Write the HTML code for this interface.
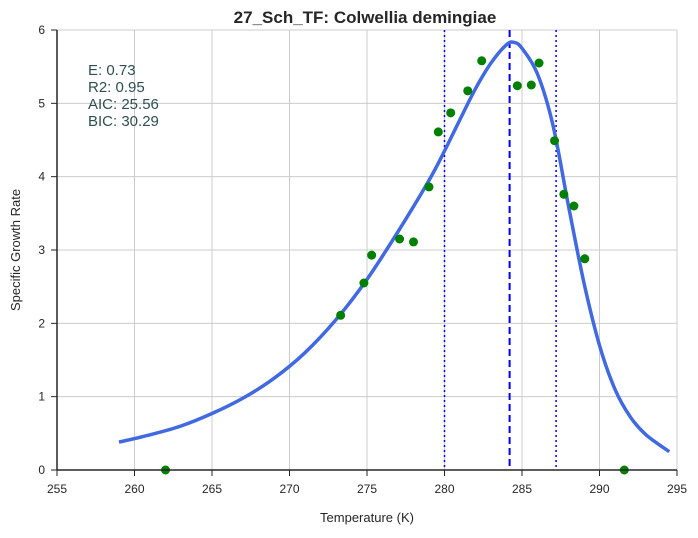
<!DOCTYPE html>
<html><head><meta charset="utf-8"><style>
body{margin:0;background:#fff;}
svg text{font-family:"Liberation Sans",Arial,sans-serif;}
</style></head><body>
<svg id="chart" width="698" height="533" xmlns="http://www.w3.org/2000/svg">
<rect width="698" height="533" fill="#fff"/>
<g id="grid"></g>
<g id="vlines"></g>
<path id="curve" fill="none" stroke="#4169e1" stroke-width="3.5"/>
<g id="points"></g>
<g id="axes"></g>
<text x="365" y="23" text-anchor="middle" font-size="17" font-weight="bold" fill="#262626">27_Sch_TF: Colwellia demingiae</text>
<text x="367" y="522" text-anchor="middle" font-size="13" fill="#262626">Temperature (K)</text>
<text transform="translate(20,250) rotate(-90)" text-anchor="middle" font-size="13" fill="#262626">Specific Growth Rate</text>
<g font-size="15" fill="#2f4f4f">
<text x="88" y="75">E:  0.73</text>
<text x="88" y="92">R2:  0.95</text>
<text x="88" y="109">AIC: 25.56</text>
<text x="88" y="126">BIC: 30.29</text>
</g>
</svg>
<script>
const xTicks=[255,260,265,270,275,280,285,290,295];
const yTicks=[0,1,2,3,4,5,6];
const obsT=[262.0,273.3,274.8,275.3,277.1,278.0,279.0,279.6,280.4,281.5,282.4,284.7,285.6,286.1,287.1,287.7,288.35,289.05,291.6];
const obsR=[0,2.11,2.55,2.93,3.15,3.11,3.86,4.61,4.87,5.17,5.58,5.24,5.25,5.55,4.49,3.76,3.60,2.88,0];
const fitT=[259,261,263,265,267,269,271,273,275,277,279,280,281,282,283,284,284.5,285,286,287,288,289,290,291,292,293,294.5];
const fitR=[0.38,0.48,0.6,0.77,0.98,1.25,1.6,2.05,2.6,3.25,3.95,4.35,4.78,5.2,5.55,5.8,5.83,5.75,5.4,4.7,3.6,2.55,1.7,1.1,0.72,0.48,0.25];
const refT=[280.0,284.2,287.2];
const refStyle=["2,3","7,4","2,3"];
const X=t=>57+(t-255)*15.5;
const Y=v=>470-v*73.333;
const NS="http://www.w3.org/2000/svg";
function mk(tag,attrs,parent){const e=document.createElementNS(NS,tag);for(const k in attrs)e.setAttribute(k,attrs[k]);parent.appendChild(e);return e;}
const grid=document.getElementById('grid'),axes=document.getElementById('axes');
xTicks.forEach(t=>{
 const l=mk('line',{x1:X(t),x2:X(t),y1:30,y2:470,stroke:'#cccccc','stroke-width':1},grid);
 
 
 const tk=mk('line',{x1:X(t),x2:X(t),y1:470,y2:476,stroke:'#262626'},axes);
 
 
 const tx=mk('text',{x:X(t),y:493,'text-anchor':'middle','font-size':12,fill:'#262626'},axes);
 tx.textContent=t;
 
 
});
yTicks.forEach(v=>{
 const l=mk('line',{x1:57,x2:677,y1:Y(v),y2:Y(v),stroke:'#cccccc','stroke-width':1},grid);
 
 
 const tk=mk('line',{x1:51,x2:57,y1:Y(v),y2:Y(v),stroke:'#262626'},axes);
 
 
 const tx=mk('text',{x:45,y:Y(v)+4,'text-anchor':'end','font-size':12,fill:'#262626'},axes);
 tx.textContent=v;
 
 
});
const sp1=mk('line',{x1:57,x2:57,y1:30,y2:470,stroke:'#262626','stroke-width':1.5},axes);


const sp2=mk('line',{x1:57,x2:677,y1:470,y2:470,stroke:'#262626','stroke-width':1.5},axes);


const vl=document.getElementById('vlines');
refT.forEach((t,i)=>{
 const l=mk('line',{x1:X(t),x2:X(t),y1:30,y2:470,stroke:'#0000ff','stroke-width':i==1?2:1.5,'stroke-dasharray':refStyle[i]},vl);
 
 
});
let d='';
for(let i=0;i<fitT.length;i++){
 const x=X(fitT[i]),y=Y(fitR[i]);
 if(i==0){d+='M'+x+','+y;continue;}
 const x0=X(fitT[i-1]),y0=Y(fitR[i-1]);
 const xp=i>1?X(fitT[i-2]):x0,yp=i>1?Y(fitR[i-2]):y0;
 const xn=i<fitT.length-1?X(fitT[i+1]):x,yn=i<fitT.length-1?Y(fitR[i+1]):y;
 const c1x=x0+(x-xp)/6,c1y=y0+(y-yp)/6,c2x=x-(xn-x0)/6,c2y=y-(yn-y0)/6;
 d+=` C${c1x},${c1y} ${c2x},${c2y} ${x},${y}`;
}
document.getElementById('curve').setAttribute('d',d);
const pts=document.getElementById('points');
obsT.forEach((t,i)=>{
 const c=mk('circle',{cx:X(t),cy:Y(obsR[i]),r:4.5,fill:'#008000'},pts);
 
 
});
</script>
</body></html>
